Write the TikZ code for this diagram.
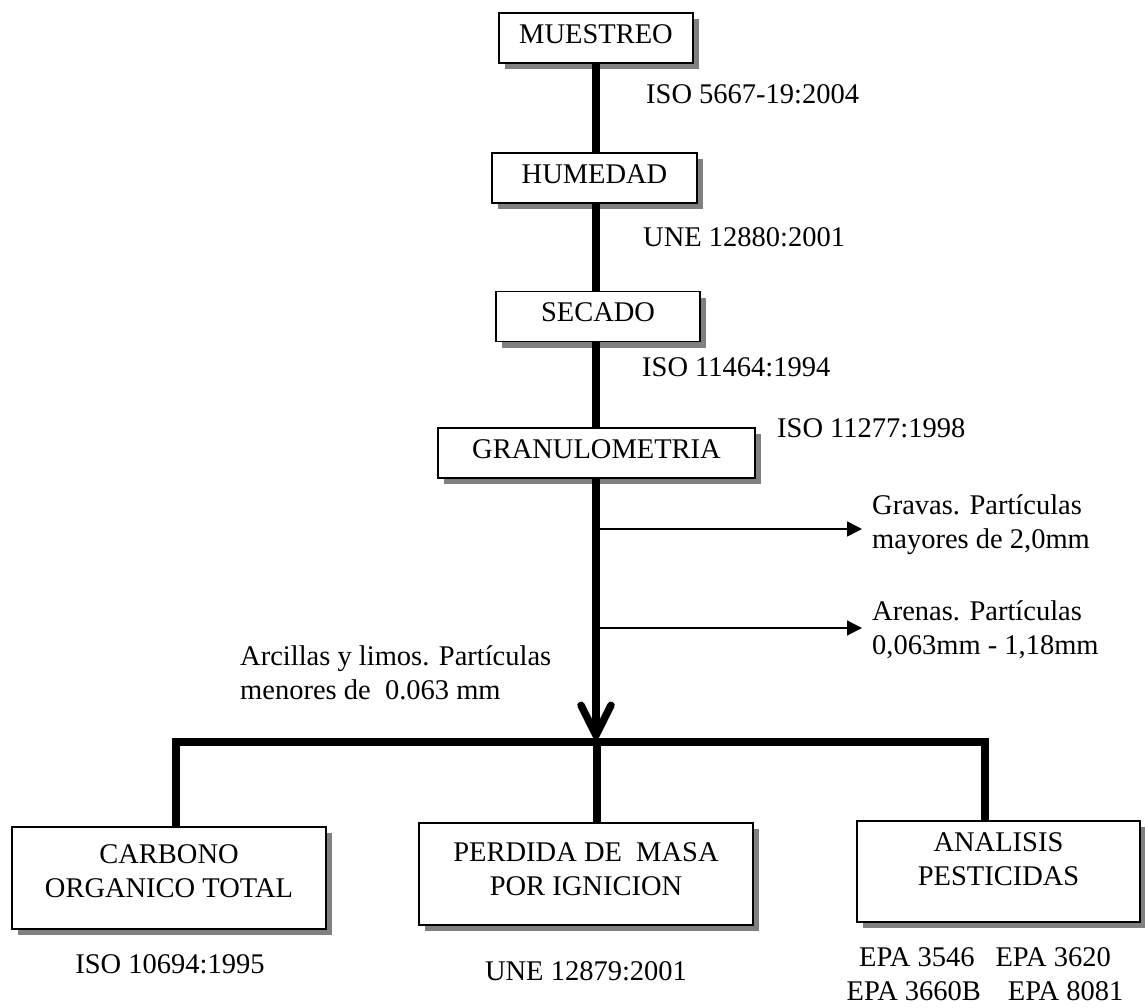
\documentclass[tikz,border=0pt]{standalone}
\usepackage{fontspec}
\setmainfont{Liberation Serif}
\usetikzlibrary{arrows.meta,shadows}

\tikzset{
  box/.style={draw, line width=1.3pt, fill=white, inner xsep=0pt, inner ysep=0pt,
    text height=30pt, text depth=20pt,
    drop shadow={shadow xshift=6pt, shadow yshift=-6pt, fill=black!50, opacity=1}},
  trunk/.style={line width=7.5pt},
  branch/.style={line width=1.5pt, -{Triangle[length=15pt,width=15pt]}},
  std/.style={inner sep=0pt},
  side/.style={inner xsep=10pt, inner ysep=0pt, align=left}
}

\begin{document}
\begin{tikzpicture}[x=1pt, y=-1pt, font=\fontsize{28.5}{34}\selectfont]
\useasboundingbox (0,0) rectangle (1145,1007);

% steps
\node[box, minimum width=194pt] (mue) at (596,38) {MUESTREO};
\node[box, minimum width=205pt] (hum) at (594.5,178) {HUMEDAD};
\node[box, minimum width=204pt] (sec) at (598,316.5) {SECADO};
\node[box, minimum width=317pt] (gra) at (596.5,453) {GRANULOMETRIA};

% results
\node[box, minimum width=314pt, align=center, text height=70pt, text depth=32pt] (cot) at (169,878) {CARBONO\\ORGANICO TOTAL};
\node[box, minimum width=334pt, align=center, text height=72pt, text depth=30pt] (per) at (586,874) {PERDIDA DE~ MASA\\POR IGNICION};
\node[box, minimum width=283pt, align=center, text height=64pt, text depth=37pt] (ana) at (998.5,871.5) {ANALISIS\\PESTICIDAS};

% norms
\node[std, anchor=base west] (iso1) at (646,103) {ISO 5667-19:2004};
\node[std, anchor=base west] (une1) at (643,246) {UNE 12880:2001};
\node[std, anchor=base west] (iso2) at (642,376) {ISO 11464:1994};
\node[std, anchor=base west] (iso3) at (777,437) {ISO 11277:1998};
\node[std, anchor=base] (iso4) at (170,973) {ISO 10694:1995};
\node[std, anchor=base] (une2) at (586,980) {UNE 12879:2001};
\node[std, align=center, anchor=north] (epa) at (985,947) {EPA 3546\hspace{21pt}EPA 3620\\EPA 3660B\hspace{27pt}EPA 8081};

% fractions
\node[side, anchor=north west] (grav) at (862,494) {Gravas. Partículas\\mayores de 2,0mm};
\node[side, anchor=north west] (aren) at (862,600) {Arenas. Partículas\\0,063mm - 1,18mm};
\node[std, align=left, anchor=north west] (arci) at (240,645) {Arcillas y limos. Partículas\\menores de~ 0.063 mm};

\coordinate (g1) at (596,529);
\coordinate (g2) at (596,628);
\coordinate (tip) at (596,739);
\coordinate (barL) at (176,742);
\coordinate (barM) at (597,742);
\coordinate (barR) at (985,742);

\draw[trunk] (mue.south) -- (mue.south |- hum.north);
\draw[trunk] (hum.south -| mue.south) -- (sec.north -| mue.south);
\draw[trunk] (sec.south -| mue.south) -- (gra.north -| mue.south);
\draw[trunk, -{Straight Barb[length=30pt,width=30pt,round]}] (gra.south -| mue.south) -- (tip);

\draw[branch] (g1) -- (g1 -| grav.west);
\draw[branch] (g2) -- (g2 -| aren.west);

\draw[trunk] (barL |- cot.north) -- (barL) -- (barR) -- (barR |- ana.north);
\draw[trunk] (barM) -- (barM |- per.north);
\end{tikzpicture}
\end{document}
